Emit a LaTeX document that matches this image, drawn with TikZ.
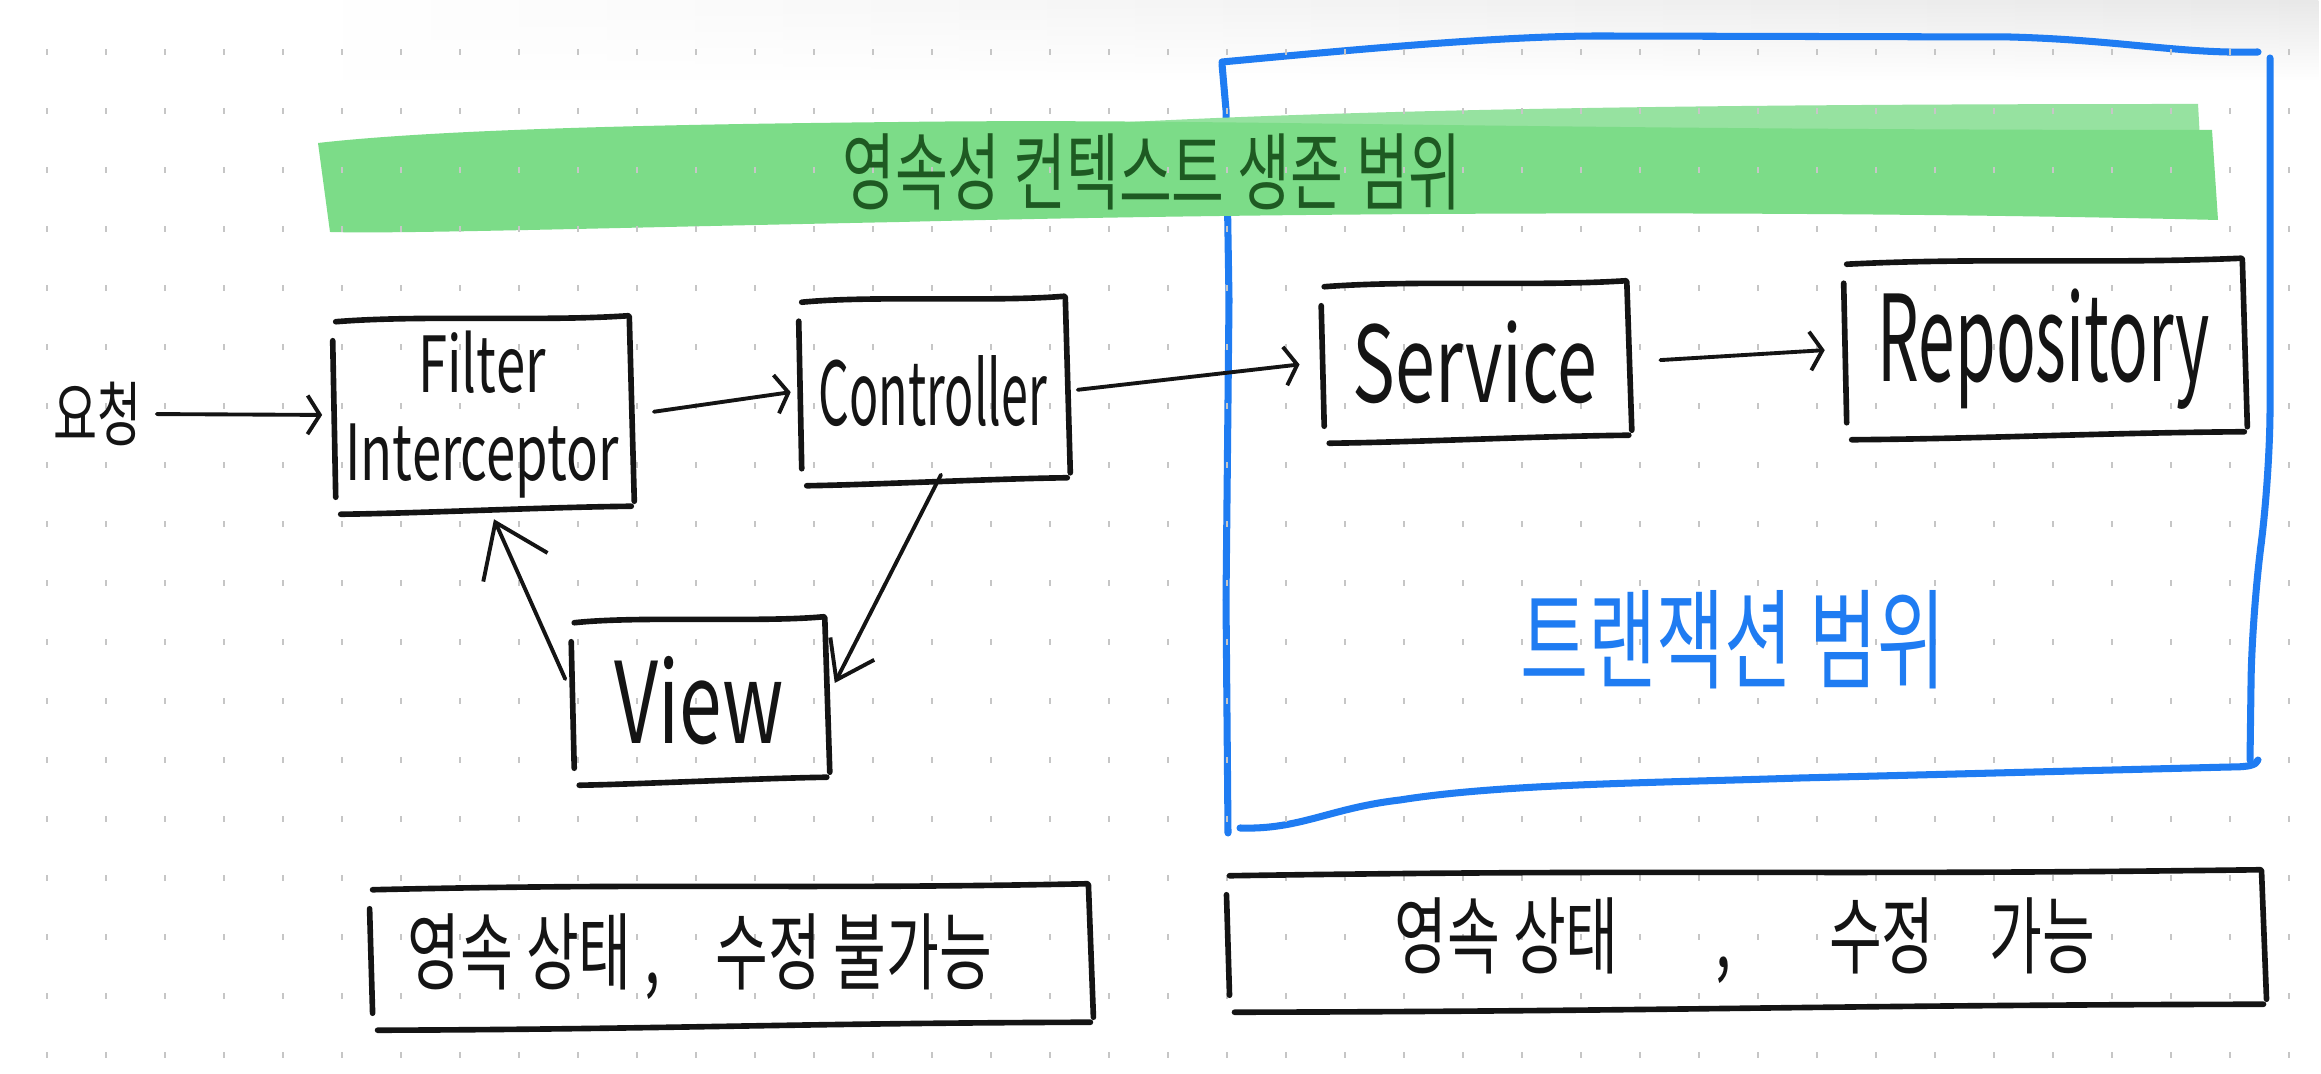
\documentclass[tikz,border=0pt]{standalone}
\usepackage{fontspec}
\setmainfont[FakeStretch=0.68]{Noto Sans CJK KR}
\newfontfamily\narrow[FakeStretch=0.55]{Noto Sans CJK KR}
\usetikzlibrary{arrows.meta,calc,fadings}
\definecolor{ink}{HTML}{141414}
\definecolor{sky}{HTML}{1F7CF2}
\definecolor{grass}{HTML}{7CDC88}
\definecolor{grasslt}{HTML}{96E2A0}
\definecolor{leaf}{HTML}{1E5A22}
\definecolor{dotc}{HTML}{C6C6C6}
\tikzset{
  >={Straight Barb[length=3.5pt,width=11pt]},
  conn/.style={ink, line width=1.1pt, ->, line cap=round},
  boxline/.style={ink, line width=1.6pt, line cap=round},
  box/.style={inner sep=0pt, text=ink},
  frame/.style={sky, line width=2pt, line cap=round, line join=round},
}
% hand-drawn box round a node: four loose strokes
\newcommand{\sketchbox}[1]{%
  \draw[boxline] ($(#1.north west)+(3,3)$) .. controls ($(#1.north)+(-60,-4)$) and ($(#1.north)+(60,3)$) .. ($(#1.north east)+(-3,-3)$);
  \draw[boxline] ($(#1.north east)+(-2,-2)$) -- ($(#1.south east)+(3,-10)$);
  \draw[boxline] ($(#1.north west)+(0,22)$) -- ($(#1.south west)+(3,-14)$);
  \draw[boxline] ($(#1.south west)+(8,3)$) .. controls ($(#1.south)+(-60,2)$) and ($(#1.south)+(60,-4)$) .. ($(#1.south east)+(0,-5)$);
}

\begin{document}
\begin{tikzpicture}[x=0.01cm, y=-0.01cm]

\useasboundingbox (0,0) rectangle (2321,1074);
\fill[white] (0,0) rectangle (2321,1074);
\shade[left color=white, right color=black!9, path fading=south] (300,0) rectangle (2321,80);

% ---------------- transaction scope (blue) ----------------
\draw[frame] (1222,62) .. controls (1350,50) and (1500,36) .. (1600,36) -- (2010,37)
  .. controls (2120,40) and (2180,54) .. (2258,52);
\draw[frame, rounded corners=20] (2270,58) -- (2270,480) -- (2252,610) -- (2250,760);
\draw[frame] (1240,828) .. controls (1300,830) and (1330,808) .. (1400,800)
  .. controls (1500,784) and (1650,783) .. (1800,778) -- (2230,767)
  .. controls (2250,767) and (2256,765) .. (2258,760);
\draw[frame] (1222,64) -- (1226,110) -- (1229,300) -- (1226,600) -- (1228,833);

% ---------------- persistence context band (green) ----------------
\fill[grasslt] (1000,130) .. controls (1250,112) and (1600,104) .. (2198,104) -- (2200,140) -- (1000,140) -- cycle;
\fill[grass] (318,143) .. controls (450,128) and (700,124) .. (900,122)
  .. controls (1200,118) and (1500,130) .. (2212,130) -- (2218,220)
  .. controls (1800,210) and (1300,212) .. (900,222)
  .. controls (600,228) and (400,234) .. (330,232) -- cycle;

% dot grid
\foreach \i in {0,...,38}
  \foreach \j in {0,...,17}
    \fill[dotc] ({47+59*\i-1.2},{52+59*\j-3}) rectangle ++(2.4,6);

\node[text=leaf, font=\fontsize{24}{26}\selectfont] (pcscope) at (1152,172) {영속성 컨텍스트 생존 범위};
\node[text=sky, font=\fontsize{31}{33}\selectfont] (txscope) at (1733,640) {트랜잭션 범위};

% ---------------- request flow ----------------
\node[box, font=\fontsize{20}{22}\selectfont] (req) at (98,414) {요청};
\node[box, minimum width=2.97cm, minimum height=1.91cm, align=center, font=\fontsize{22}{25}\selectfont] (filt) at (482,415) {Filter\\Interceptor};
\node[box, minimum width=2.67cm, minimum height=1.82cm, font=\narrow\fontsize{25}{27}\selectfont] (ctrl) at (933,391) {Controller};
\node[box, minimum width=3.06cm, minimum height=1.55cm, font=\fontsize{30}{32}\selectfont] (serv) at (1475,362) {Service};
\node[box, minimum width=3.99cm, minimum height=1.74cm, font=\narrow\fontsize{34}{36}\selectfont] (repo) at (2044,349) {Repository};
\node[box, minimum width=2.54cm, minimum height=1.61cm, font=\fontsize{32}{34}\selectfont] (view) at (699,701) {View};
\foreach \n in {filt,ctrl,serv,repo,view} {\sketchbox{\n}}

\draw[conn, shorten <=4pt, shorten >=3pt] (req.east) -- (filt.west);
\draw[conn, shorten <=6.5pt, shorten >=2.3pt] (filt.east) -- (ctrl.west);
\draw[conn, shorten <=3pt, shorten >=6.2pt] (ctrl.east) -- (serv.west);
\draw[conn, shorten <=9pt, shorten >=5.4pt] (serv.east) -- (repo.west);
\draw[conn, >={Straight Barb[length=10pt,width=14pt]}] ($(ctrl.south)+(8,-8)$) -- ($(view.east)+(8,-18)$);
\draw[conn, >={Straight Barb[length=14pt,width=20pt]}] ($(view.west)+(-6,-22)$) -- ($(filt.south)+(12,8)$);

% ---------------- state boxes ----------------
\node[box, minimum width=7.19cm, minimum height=1.39cm, font=\fontsize{24}{26}\selectfont] (keepL) at (730,957) {영속 상태 , \enspace 수정 불가능\hspace*{0.6cm}};
\node[box, minimum width=10.35cm, minimum height=1.35cm, font=\fontsize{24}{26}\selectfont] (keepR) at (1745,941) {영속 상태 \quad , \quad 수정 \enspace 가능};
\sketchbox{keepL}
\sketchbox{keepR}

\end{tikzpicture}
\end{document}
